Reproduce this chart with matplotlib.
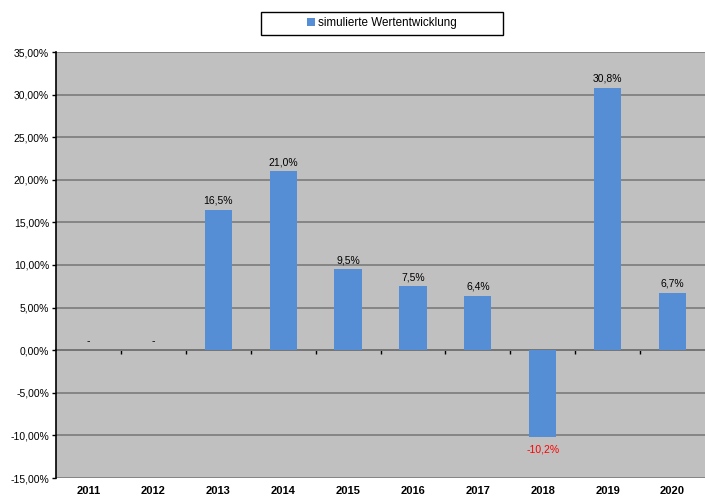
import matplotlib.pyplot as plt
from matplotlib.patches import Rectangle
from matplotlib.ticker import FuncFormatter

years = ['2011', '2012', '2013', '2014', '2015', '2016', '2017', '2018', '2019', '2020']
values = [0.0, 0.0, 16.5, 21.0, 9.5, 7.5, 6.4, -10.2, 30.8, 6.7]
labels = ['-', '-', '16,5%', '21,0%', '9,5%', '7,5%', '6,4%', '-10,2%', '30,8%', '6,7%']

plt.rcParams['font.family'] = ['Liberation Sans', 'DejaVu Sans']

fig = plt.figure(figsize=(7.05, 4.96), dpi=100)
ax = fig.add_axes([56 / 705, 18 / 496, 649 / 705, 426 / 496])
ax.set_facecolor('#c0c0c0')

x = list(range(len(years)))
bars = ax.bar(x, values, width=0.42, color='#558ed5', zorder=3,
              label='simulierte Wertentwicklung')

for xi, v, lab in zip(x, values, labels):
    if v < 0:
        ax.annotate(lab, (xi, v), xytext=(0, -5), textcoords='offset points',
                    ha='center', va='top', fontsize=7.5, color='#ff0000')
    else:
        ax.annotate(lab, (xi, v), xytext=(0, 3), textcoords='offset points',
                    ha='center', va='bottom', fontsize=7.5, color='black')

ax.set_xlim(-0.5, len(years) - 0.5)
ax.set_ylim(-15, 35)
ax.set_yticks(range(-15, 36, 5))
ax.yaxis.set_major_formatter(FuncFormatter(lambda v, p: f'{v:.2f}%'.replace('.', ',')))
ax.tick_params(axis='y', labelsize=7.5, length=3, width=1, direction='out', pad=2)
ax.grid(axis='y', color='#808080', linewidth=1.3, zorder=1)

ax.set_xticks(x)
ax.set_xticklabels(years, fontweight='bold', fontsize=8)
ax.tick_params(axis='x', length=0, pad=6)

for s in ['top', 'right', 'bottom']:
    ax.spines[s].set_visible(False)
ax.spines['left'].set_color('black')
ax.spines['left'].set_linewidth(1.2)

# zero line with category separators
sec = ax.secondary_xaxis(0.3)
sec.set_xticks([i + 0.5 for i in range(len(years) - 1)])
sec.set_xticklabels([])
sec.tick_params(length=3, width=1, direction='out', color='black')
sec.spines['bottom'].set_color('black')
sec.spines['bottom'].set_linewidth(1.2)

# legend with a wide frame like the reference
fig.legend(loc='center', bbox_to_anchor=(382 / 705, 1 - 23 / 496),
           fontsize=8.4, frameon=False,
           handlelength=0.7, handleheight=0.7, handletextpad=0.3,
           borderpad=0.5, borderaxespad=0)
fig.patches.append(Rectangle((261 / 705, 1 - 35 / 496), 242 / 705, 23 / 496,
                             transform=fig.transFigure, fill=False,
                             edgecolor='black', linewidth=1.0))

fig.savefig('out.png', dpi=100)
